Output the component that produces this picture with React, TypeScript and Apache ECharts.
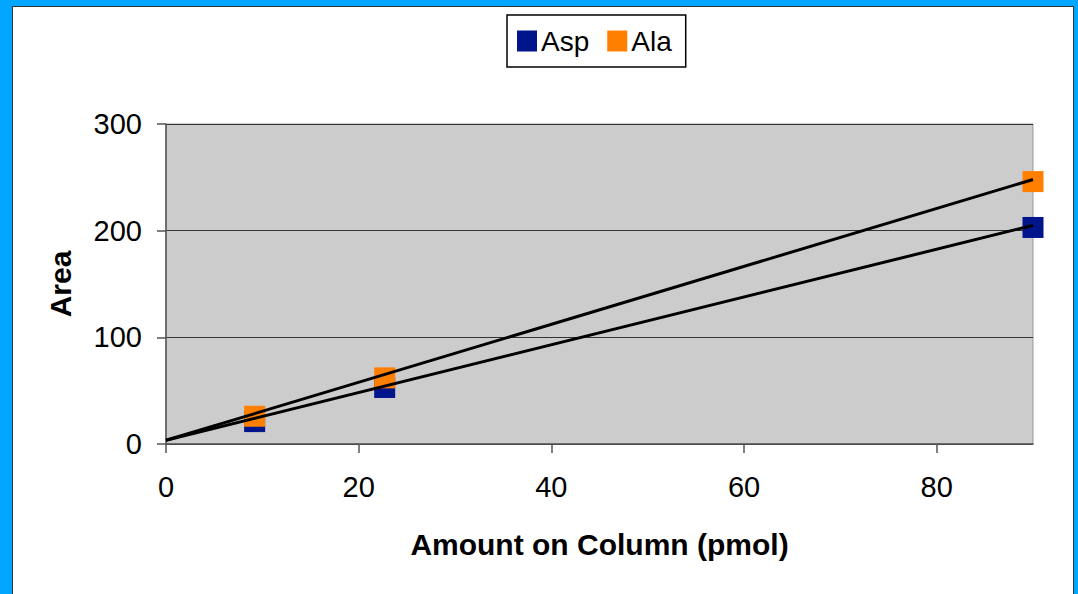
import React, { useEffect, useRef } from "react";
import * as echarts from "echarts";

const amounts = [9.2, 22.7, 90];
const aspArea = [21, 53, 203];
const alaArea = [26, 62, 246];
const trendX = [0, 90];
const aspTrendY = [3.5, 205];
const alaTrendY = [3.5, 248];
const xTicks = [0, 20, 40, 60, 80];
const seriesNames = ["Asp", "Ala"];

const FONT = "'Liberation Sans', Arial, Helvetica, sans-serif";

export default function App() {
  const ref = useRef<HTMLDivElement>(null);

  useEffect(() => {
    if (!ref.current) return;
    const chart = echarts.init(ref.current, null, { renderer: "svg" });
    const pts = (xs: number[], ys: number[]) => xs.map((x, i) => [x, ys[i]]);
    chart.setOption({
      animation: false,
      textStyle: { fontFamily: FONT },
      legend: {
        data: seriesNames,
        left: 507,
        top: 15,
        orient: "horizontal",
        backgroundColor: "#ffffff",
        borderColor: "#000000",
        borderWidth: 1.5,
        borderRadius: 0,
        padding: [12, 14, 12, 10],
        itemGap: 18,
        itemWidth: 20,
        itemHeight: 21,
        icon: "rect",
        itemStyle: { opacity: 1 },
        textStyle: { fontSize: 28, color: "#000", fontFamily: FONT, padding: [0, 0, 0, -1] },
      },
      grid: {
        left: 166,
        top: 124,
        right: 45,
        bottom: 150,
        show: true,
        backgroundColor: "#cccccc",
        borderColor: "#999999",
        borderWidth: 1,
      },
      xAxis: {
        type: "value",
        min: 0,
        max: 90,
        interval: 20,
        name: "Amount on Column (pmol)",
        nameLocation: "middle",
        nameGap: 85,
        nameTextStyle: { fontSize: 30, fontWeight: "bold", color: "#000", fontFamily: FONT },
        axisLine: { show: true, lineStyle: { color: "#555", width: 1.5 } },
        axisTick: { show: true, length: 9, customValues: xTicks, lineStyle: { color: "#555", width: 1.5 } },
        axisLabel: { fontSize: 29, color: "#000", margin: 28, customValues: xTicks, fontFamily: FONT },
        splitLine: { show: false },
      },
      yAxis: {
        type: "value",
        min: 0,
        max: 300,
        interval: 100,
        name: "Area",
        nameLocation: "middle",
        nameGap: 91,
        nameTextStyle: { fontSize: 30, fontWeight: "bold", color: "#000", fontFamily: FONT },
        axisLine: { show: true, lineStyle: { color: "#555", width: 1.5 } },
        axisTick: { show: true, length: 9, lineStyle: { color: "#555", width: 1.5 } },
        axisLabel: { fontSize: 29, color: "#000", margin: 24, fontFamily: FONT },
        splitLine: { show: true, lineStyle: { color: "#333", width: 1.2 } },
      },
      series: [
        {
          name: "Asp",
          type: "scatter",
          symbol: "rect",
          symbolSize: 21,
          itemStyle: { color: "#00148c", opacity: 1 },
          data: pts(amounts, aspArea),
          z: 2,
        },
        {
          name: "Ala",
          type: "scatter",
          symbol: "rect",
          symbolSize: 21,
          itemStyle: { color: "#ff8000", opacity: 1 },
          data: pts(amounts, alaArea),
          z: 3,
        },
        {
          name: "Asp trend",
          type: "line",
          symbol: "none",
          silent: true,
          lineStyle: { color: "#000", width: 3 },
          data: pts(trendX, aspTrendY),
          z: 4,
        },
        {
          name: "Ala trend",
          type: "line",
          symbol: "none",
          silent: true,
          lineStyle: { color: "#000", width: 3 },
          data: pts(trendX, alaTrendY),
          z: 4,
        },
      ],
    });
    return () => chart.dispose();
  }, []);

  return (
    <div style={{ position: "fixed", left: 0, top: 0, width: 1078, height: 594, background: "#00a6ff", overflow: "hidden" }}>
      <div
        style={{
          position: "absolute",
          left: 12,
          top: 6,
          width: 1062,
          height: 600,
          background: "#ffffff",
          border: "1.5px solid #333",
          boxSizing: "border-box",
        }}
      />
      <div ref={ref} style={{ position: "absolute", left: 0, top: 0, width: 1078, height: 594 }} />
    </div>
  );
}
